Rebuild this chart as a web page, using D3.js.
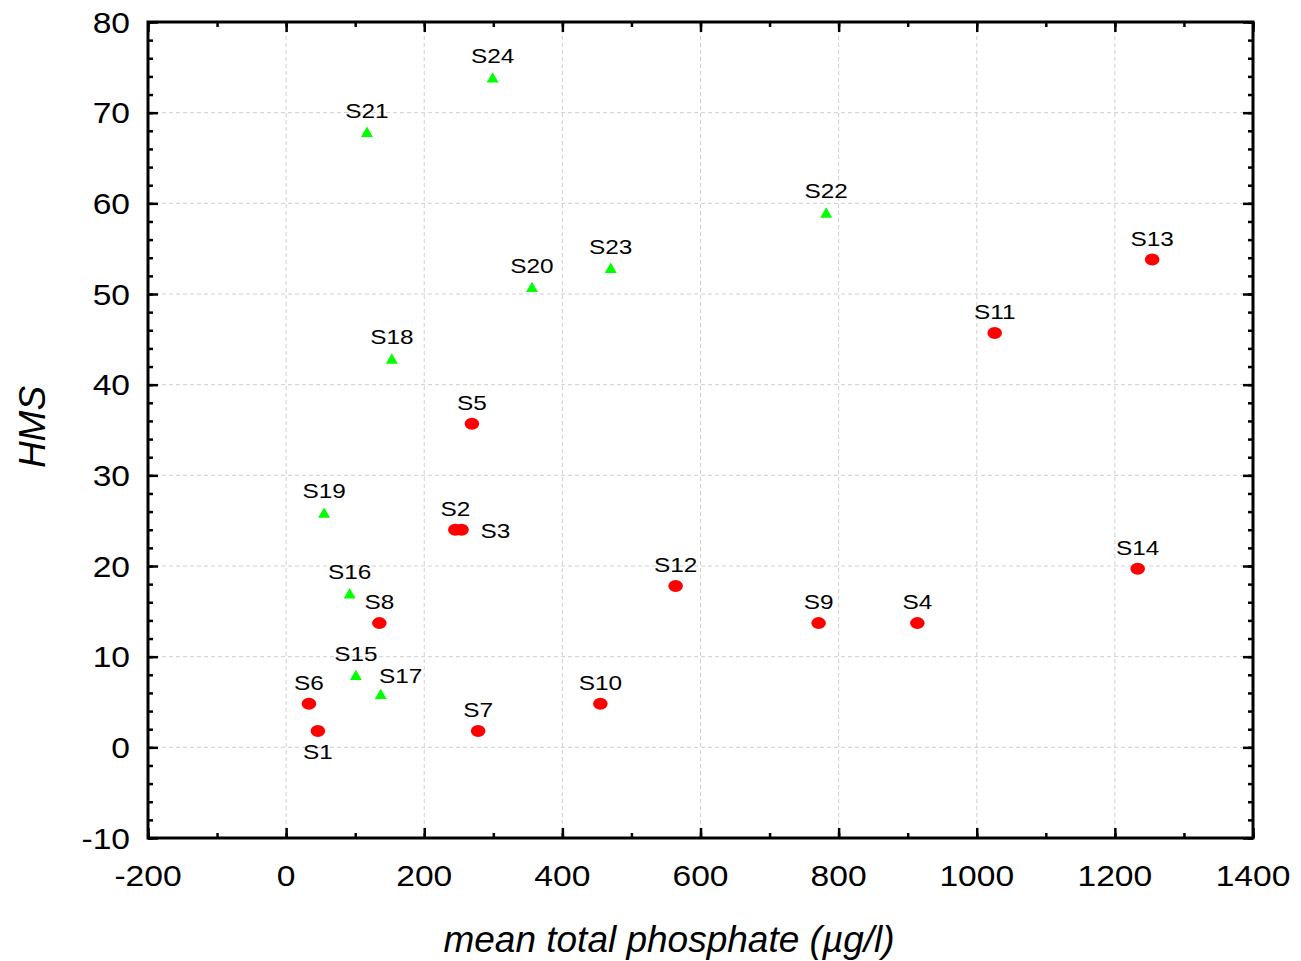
<!DOCTYPE html>
<html><head><meta charset="utf-8">
<script src="https://cdn.jsdelivr.net/npm/d3@7"></script>
<style>body{margin:0;background:#fff;}svg{display:block;font-family:"Liberation Sans",Arial,sans-serif;}</style>
</head><body>
<script>
const redNames = ["S1","S2","S3","S4","S5","S6","S7","S8","S9","S10","S11","S12","S13","S14"];
const redX = [46,245,254,914,269,33,278,135,771,455,1026,564,1254,1233];
const redY = [1.8,24,24,13.7,35.7,4.8,1.8,13.7,13.7,4.8,45.7,17.8,53.8,19.7];
const greenNames = ["S15","S16","S17","S18","S19","S20","S21","S22","S23","S24"];
const greenX = [101,92,137,153,55,356,117,782,470,299];
const greenY = [7.8,16.8,5.7,42.7,25.7,50.6,67.7,58.8,52.7,73.7];
const labelPos = {S1:"below",S3:"right",S17:"aboveRight"};
const xTicks = [-200,0,200,400,600,800,1000,1200,1400];
const yTicks = [-10,0,10,20,30,40,50,60,70,80];

const W=1301,H=961;
const SX=1.16; // horizontal stretch of point labels
const TSX=1.12; // tick label stretch
const m={l:148,r:1253,t:22,b:838};
const svg=d3.select("body").append("svg").attr("width",W).attr("height",H);
const x=d3.scaleLinear().domain([-200,1400]).range([m.l,m.r]);
const y=d3.scaleLinear().domain([-10,80]).range([m.b,m.t]);
const fmt=d=>String(d);

// grid
const g=svg.append("g");
g.selectAll("line.gx").data(xTicks.slice(1,-1)).join("line")
 .attr("x1",d=>x(d)).attr("x2",d=>x(d)).attr("y1",m.t).attr("y2",m.b)
 .attr("stroke","#cfcfcf").attr("stroke-dasharray","4,3").attr("stroke-width",1);
g.selectAll("line.gy").data(yTicks.slice(1,-1)).join("line")
 .attr("y1",d=>y(d)).attr("y2",d=>y(d)).attr("x1",m.l).attr("x2",m.r)
 .attr("stroke","#cfcfcf").attr("stroke-dasharray","4,3").attr("stroke-width",1);

// axes with inward ticks
const xMinor=d3.range(-200,1401,100), yMinor=d3.range(-10,81,2);
function addAxis(axis, transform){
  const a=svg.append("g").attr("transform",transform).call(axis);
  a.select(".domain").remove();
  a.selectAll(".tick line").attr("stroke","#000").attr("stroke-width",2.5);
  a.selectAll(".tick text").remove();
  return a;
}
addAxis(d3.axisBottom(x).tickValues(xTicks).tickSize(-10),`translate(0,${m.b})`);
addAxis(d3.axisBottom(x).tickValues(xMinor).tickSize(-5),`translate(0,${m.b})`);
addAxis(d3.axisTop(x).tickValues(xTicks).tickSize(-10),`translate(0,${m.t})`);
addAxis(d3.axisTop(x).tickValues(xMinor).tickSize(-5),`translate(0,${m.t})`);
addAxis(d3.axisLeft(y).tickValues(yTicks).tickSize(-10),`translate(${m.l},0)`);
addAxis(d3.axisLeft(y).tickValues(yMinor).tickSize(-5),`translate(${m.l},0)`);
addAxis(d3.axisRight(y).tickValues(yTicks).tickSize(-10),`translate(${m.r},0)`);
addAxis(d3.axisRight(y).tickValues(yMinor).tickSize(-5),`translate(${m.r},0)`);

// tick labels
svg.append("g").selectAll("text").data(xTicks).join("text")
 .attr("transform",d=>`translate(${x(d)},886) scale(${TSX},1)`)
 .attr("text-anchor","middle").attr("font-size",30).attr("fill","#000").text(fmt);
svg.append("g").selectAll("text").data(yTicks).join("text")
 .attr("transform",d=>`translate(130,${y(d)+10.5}) scale(${TSX},1)`)
 .attr("text-anchor","end").attr("font-size",30).attr("fill","#000").text(fmt);

// frame
svg.append("rect").attr("x",m.l).attr("y",m.t).attr("width",m.r-m.l).attr("height",m.b-m.t)
 .attr("fill","none").attr("stroke","#000").attr("stroke-width",3);

// data
const red=redNames.map((n,i)=>({n,x:redX[i],y:redY[i],g:false}));
const green=greenNames.map((n,i)=>({n,x:greenX[i],y:greenY[i],g:true}));
svg.selectAll("ellipse.r").data(red).join("ellipse")
 .attr("cx",d=>x(d.x)).attr("cy",d=>y(d.y)).attr("rx",7.3).attr("ry",6).attr("fill","#ff0000");
const tri=d3.symbol().type(d3.symbolTriangle).size(62);
svg.selectAll("path.g").data(green).join("path")
 .attr("d",tri).attr("transform",d=>`translate(${x(d.x)},${y(d.y)})`).attr("fill","#00ff00");

const all=red.concat(green);
svg.append("g").selectAll("text").data(all).join("text")
 .attr("font-size",21).attr("fill","#000")
 .attr("transform",d=>{
   const p=labelPos[d.n]; const py=y(d.y)+(d.g?-2:0);
   let tx=x(d.x), ty=py-14;
   if(p==="below"){ty=py+28;}
   else if(p==="right"){tx=x(d.x)+19; ty=py+8;}
   else if(p==="aboveRight"){tx=x(d.x)+20; ty=py-11;}
   return `translate(${tx},${ty}) scale(${SX},1)`;})
 .attr("text-anchor",d=>labelPos[d.n]==="right"?"start":"middle")
 .text(d=>d.n);

// axis titles
svg.append("text").attr("transform",`translate(669,952)`).attr("text-anchor","middle")
 .attr("font-size",37).attr("font-style","italic").attr("fill","#000").text("mean total phosphate (µg/l)");
svg.append("text").attr("transform",`translate(45,427) rotate(-90)`).attr("text-anchor","middle")
 .attr("font-size",37).attr("font-style","italic").attr("fill","#000").text("HMS");
</script>
</body></html>
